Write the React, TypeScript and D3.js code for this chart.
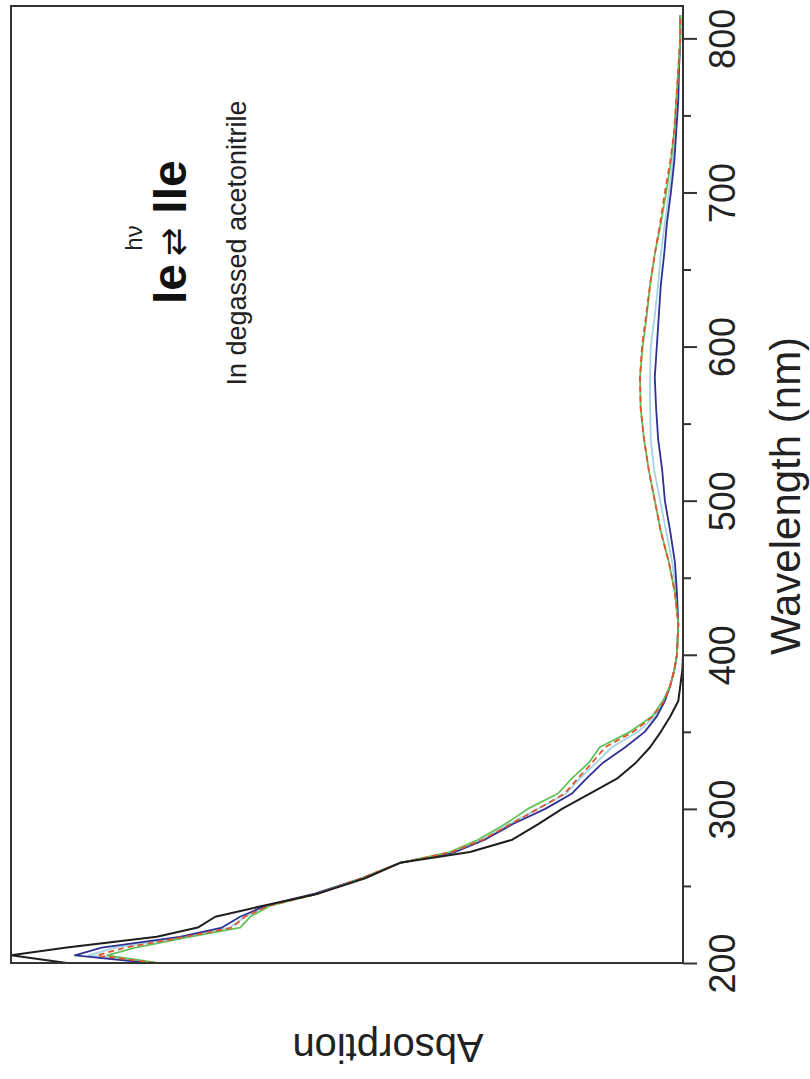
import React, { useEffect, useRef } from "react";
import * as d3 from "d3";

// Wavelengths (nm) shared by every spectrum
const wavelengths = [200, 205, 210, 217, 223, 230, 237, 245, 255, 265, 272, 280, 290, 300, 310, 320, 330, 340, 350, 360, 370, 380, 390, 400, 420, 440, 460, 480, 500, 520, 540, 560, 580, 600, 620, 640, 660, 680, 700, 720, 740, 760, 780, 800, 815];

// Absorption (arbitrary units, 1 = top of the frame)
const absBlack = [0.917, 1.0, 0.917, 0.783, 0.722, 0.696, 0.626, 0.543, 0.473, 0.421, 0.317, 0.254, 0.216, 0.18, 0.138, 0.097, 0.07, 0.049, 0.033, 0.019, 0.007, 0.004, 0.001, 0, 0, 0, 0, 0, 0, 0, 0, 0, 0, 0, 0, 0, 0, 0, 0, 0, 0, 0, 0, 0, 0];
const absBlue = [0.793, 0.905, 0.865, 0.749, 0.686, 0.659, 0.622, 0.548, 0.478, 0.421, 0.339, 0.295, 0.254, 0.205, 0.165, 0.143, 0.119, 0.086, 0.057, 0.039, 0.027, 0.019, 0.013, 0.009, 0.007, 0.009, 0.012, 0.019, 0.027, 0.031, 0.037, 0.04, 0.042, 0.039, 0.036, 0.033, 0.028, 0.024, 0.018, 0.013, 0.01, 0.007, 0.006, 0.004, 0.004];
const absLightBlue = [0.786, 0.885, 0.845, 0.741, 0.674, 0.652, 0.619, 0.545, 0.478, 0.421, 0.342, 0.299, 0.259, 0.216, 0.174, 0.153, 0.129, 0.106, 0.067, 0.042, 0.028, 0.019, 0.013, 0.009, 0.007, 0.01, 0.016, 0.025, 0.034, 0.043, 0.048, 0.049, 0.049, 0.048, 0.042, 0.037, 0.033, 0.027, 0.021, 0.015, 0.012, 0.009, 0.006, 0.004, 0.004];
const absRed = [0.786, 0.872, 0.83, 0.741, 0.671, 0.652, 0.618, 0.543, 0.478, 0.421, 0.344, 0.298, 0.257, 0.216, 0.176, 0.156, 0.135, 0.116, 0.074, 0.045, 0.028, 0.019, 0.013, 0.009, 0.007, 0.012, 0.021, 0.033, 0.042, 0.051, 0.058, 0.063, 0.064, 0.061, 0.055, 0.049, 0.042, 0.034, 0.027, 0.019, 0.013, 0.01, 0.007, 0.004, 0.004];
const absGreen = [0.781, 0.857, 0.815, 0.734, 0.659, 0.644, 0.615, 0.543, 0.478, 0.421, 0.347, 0.305, 0.265, 0.231, 0.186, 0.165, 0.14, 0.124, 0.079, 0.046, 0.03, 0.019, 0.013, 0.009, 0.007, 0.012, 0.021, 0.033, 0.042, 0.051, 0.058, 0.063, 0.064, 0.06, 0.054, 0.049, 0.042, 0.033, 0.025, 0.018, 0.013, 0.01, 0.007, 0.004, 0.004];

const majorTicks = [200, 300, 400, 500, 600, 700, 800];
const minorTicks = [250, 350, 450, 550, 650, 750];

const series = [
  { name: "light blue", values: absLightBlue, color: "#a3d4e6", width: 1.8, dash: null },
  { name: "blue", values: absBlue, color: "#2e3192", width: 1.8, dash: null },
  { name: "green", values: absGreen, color: "#62c25a", width: 1.8, dash: null },
  { name: "red", values: absRed, color: "#e2542c", width: 1.8, dash: "6,4" },
  { name: "black", values: absBlack, color: "#1e1e1e", width: 2, dash: null },
];

const FONT = "'Liberation Sans', Arial, Helvetica, sans-serif";

export default function App() {
  const svgRef = useRef<SVGSVGElement>(null);

  // Frame (chart is drawn rotated: wavelength runs bottom -> top, absorption right -> left)
  const frame = { left: 11, right: 683, top: 6, bottom: 963 };

  useEffect(() => {
    const svg = d3.select(svgRef.current);
    svg.selectAll("*").remove();

    const x = d3.scaleLinear().domain([0, 1]).range([frame.right, frame.left]);
    const y = d3.scaleLinear().domain([200, 821]).range([frame.bottom, frame.top]);

    svg.append("defs").append("clipPath").attr("id", "plotClip")
      .append("rect")
      .attr("x", frame.left).attr("y", frame.top)
      .attr("width", frame.right - frame.left).attr("height", frame.bottom - frame.top);

    // Spectra
    const line = d3.line<number>()
      .x(d => x(d))
      .y((d, i) => y(wavelengths[i]));

    const plot = svg.append("g").attr("clip-path", "url(#plotClip)");
    series.forEach(s => {
      plot.append("path")
        .datum(s.values)
        .attr("fill", "none")
        .attr("stroke", s.color)
        .attr("stroke-width", s.width)
        .attr("stroke-linejoin", "round")
        .attr("stroke-dasharray", s.dash)
        .attr("d", line);
    });

    // Frame
    svg.append("rect")
      .attr("x", frame.left).attr("y", frame.top)
      .attr("width", frame.right - frame.left).attr("height", frame.bottom - frame.top)
      .attr("fill", "none").attr("stroke", "#333").attr("stroke-width", 2);

    // Wavelength axis (right side)
    const axisG = svg.append("g").attr("transform", `translate(${frame.right},0)`);
    axisG.call(d3.axisRight(y).tickValues(majorTicks).tickSize(14).tickSizeOuter(0).tickFormat(d3.format("d")));
    axisG.select(".domain").remove();
    axisG.selectAll("line").attr("stroke", "#333").attr("stroke-width", 2);
    axisG.selectAll("text")
      .attr("x", null).attr("dy", null)
      .attr("transform", "translate(52,0) rotate(-90)")
      .style("text-anchor", "middle")
      .attr("font-size", 36)
      .attr("font-family", FONT)
      .attr("fill", "#222");

    const minorG = svg.append("g").attr("transform", `translate(${frame.right},0)`);
    minorG.call(d3.axisRight(y).tickValues(minorTicks).tickSize(8).tickSizeOuter(0).tickFormat(() => ""));
    minorG.select(".domain").remove();
    minorG.selectAll("line").attr("stroke", "#333").attr("stroke-width", 2);

    // Axis titles
    svg.append("text")
      .attr("transform", `translate(800,496) rotate(-90)`)
      .attr("text-anchor", "middle")
      .attr("font-family", FONT).attr("font-size", 42).attr("fill", "#222")
      .text("Wavelength (nm)");

    svg.append("text")
      .attr("transform", `translate(388,1034) rotate(180)`)
      .attr("text-anchor", "middle")
      .attr("font-family", FONT).attr("font-size", 40).attr("fill", "#222")
      .text("Absorption");

    // Annotation
    svg.append("text")
      .attr("transform", `translate(142,238) rotate(-90)`)
      .attr("text-anchor", "middle")
      .attr("font-family", FONT).attr("font-size", 24).attr("fill", "#222")
      .text("hν");

    svg.append("text")
      .attr("transform", `translate(186,284) rotate(-90)`)
      .attr("text-anchor", "middle")
      .attr("font-family", FONT).attr("font-size", 48).attr("font-weight", "bold").attr("fill", "#111")
      .text("Ie");

    svg.append("text")
      .attr("transform", `translate(185,242) rotate(-90)`)
      .attr("text-anchor", "middle")
      .attr("font-family", "'DejaVu Sans', sans-serif").attr("font-size", 34).attr("fill", "#111")
      .text("⇄");

    svg.append("text")
      .attr("transform", `translate(186,187) rotate(-90)`)
      .attr("text-anchor", "middle")
      .attr("font-family", FONT).attr("font-size", 48).attr("font-weight", "bold").attr("fill", "#111")
      .text("IIe");

    svg.append("text")
      .attr("transform", `translate(246,243) rotate(-90)`)
      .attr("text-anchor", "middle")
      .attr("font-family", FONT).attr("font-size", 27).attr("fill", "#222")
      .text("In degassed acetonitrile");
  }, []);

  return (
    <svg
      ref={svgRef}
      width={810}
      height={1079}
      style={{ position: "absolute", left: 0, top: 0, background: "#fff" }}
    />
  );
}
